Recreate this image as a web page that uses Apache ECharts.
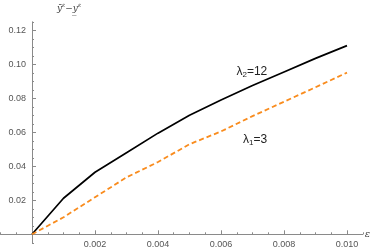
<!DOCTYPE html>
<html><head><meta charset="utf-8">
<script src="https://cdn.jsdelivr.net/npm/echarts@6/dist/echarts.min.js"></script>
<style>html,body{margin:0;padding:0;background:#fff}#c{width:374px;height:251px}</style>
</head><body><div id="c"></div>
<script>
var epsValues = [0, 0.001, 0.002, 0.003, 0.004, 0.005, 0.006, 0.007, 0.008, 0.009, 0.010];
var lambda12 = [0, 0.0212, 0.0365, 0.0480, 0.0595, 0.0700, 0.0790, 0.0875, 0.0955, 0.1035, 0.1110];
var lambda3 = [0, 0.0100, 0.0218, 0.0335, 0.0425, 0.0530, 0.0605, 0.0695, 0.0780, 0.0865, 0.0951];
var xTickLabels = [0.002, 0.004, 0.006, 0.008, 0.010];
var yTickLabels = [0.02, 0.04, 0.06, 0.08, 0.10, 0.12];
var xMajorTicks = [0, 0.002, 0.004, 0.006, 0.008, 0.010];
var yMajorTicks = [0, 0.02, 0.04, 0.06, 0.08, 0.10, 0.12];
var label12 = {x: 0.00698, y: 0.0955, text: '{a|λ}{s|2}{a|=12}'};
var label3 = {x: 0.00708, y: 0.0555, text: '{a|λ}{s|1}{a|=3}'};

function pairs(xs, ys){ return xs.map(function(x,i){ return [x, ys[i]]; }); }

var axisColor = '#8a8a8a';
var labelStyle = {color:'#555', fontSize:9, fontFamily:'Liberation Sans, Arial, sans-serif'};
var rich = {
  a:{fontSize:12, color:'#222', fontFamily:'Liberation Sans, Arial, sans-serif'},
  s:{fontSize:8, color:'#222', fontFamily:'Liberation Sans, Arial, sans-serif', padding:[6,0,0,0]}
};

var chart = echarts.init(document.getElementById('c'), null, {renderer:'canvas'});
chart.setOption({
  animation:false,
  grid:{left:0.5, top:21.8, width:362.25, height:221, containLabel:false, outerBoundsMode:'none'},
  xAxis:[{
    type:'value', min:-0.001, max:0.0105, interval:0.0005,
    axisLine:{onZero:true, lineStyle:{color:axisColor, width:1}},
    axisTick:{inside:true, length:2, lineStyle:{color:axisColor}},
    axisLabel:Object.assign({customValues:xTickLabels, margin:-2.5, verticalAlign:'top', formatter:function(v){return v.toFixed(3);}}, labelStyle),
    splitLine:{show:false},
    name:'ε', nameLocation:'end', nameGap:2, nameMoveOverlap:false,
    nameTextStyle:{color:'#444', fontSize:10, fontFamily:'DejaVu Serif, serif', fontStyle:'italic', padding:[0,0,17,0]}
  },{
    type:'value', min:-0.001, max:0.0105, position:'bottom',
    axisLine:{show:false, onZero:true},
    axisTick:{show:true, inside:true, length:4, customValues:xMajorTicks, lineStyle:{color:axisColor}},
    axisLabel:{show:false}, splitLine:{show:false}
  }],
  yAxis:[{
    type:'value', min:-0.005, max:0.125, interval:0.005,
    axisLine:{onZero:true, lineStyle:{color:axisColor, width:1}},
    axisTick:{inside:true, length:2, lineStyle:{color:axisColor}},
    axisLabel:Object.assign({customValues:yTickLabels, margin:-25.5, align:'right', formatter:function(v){return v.toFixed(2);}}, labelStyle),
    splitLine:{show:false},
    name:'{i|ȳ}{e|ε}{i|−}{i|y̲}{e|ε}', nameLocation:'end', nameGap:7, nameMoveOverlap:false,
    nameTextStyle:{align:'left', padding:[0,0,0,25], rich:{
      i:{fontSize:9, color:'#444', fontStyle:'italic', fontFamily:'DejaVu Serif, serif'},
      e:{fontSize:6, color:'#444', fontStyle:'italic', fontFamily:'DejaVu Serif, serif', padding:[0,0,6,0]}
    }}
  },{
    type:'value', min:-0.005, max:0.125, position:'left',
    axisLine:{show:false, onZero:true},
    axisTick:{show:true, inside:true, length:4, customValues:yMajorTicks, lineStyle:{color:axisColor}},
    axisLabel:{show:false}, splitLine:{show:false}
  }],
  series:[{
    type:'line', name:'l12', data:pairs(epsValues, lambda12), showSymbol:false,
    lineStyle:{color:'#000', width:1.7}, itemStyle:{color:'#000'},
    markPoint:{symbol:'circle', symbolSize:0, data:[{coord:[label12.x,label12.y], value:label12.text}],
      label:{show:true, position:'inside', formatter:label12.text, rich:rich}}
  },{
    type:'line', name:'l3', data:pairs(epsValues, lambda3), showSymbol:false,
    lineStyle:{color:'#f98c1e', width:1.8, type:[5,3]}, itemStyle:{color:'#f98c1e'},
    markPoint:{symbol:'circle', symbolSize:0, data:[{coord:[label3.x,label3.y], value:label3.text}],
      label:{show:true, position:'inside', formatter:label3.text, rich:rich}}
  }]
});
</script></body></html>
